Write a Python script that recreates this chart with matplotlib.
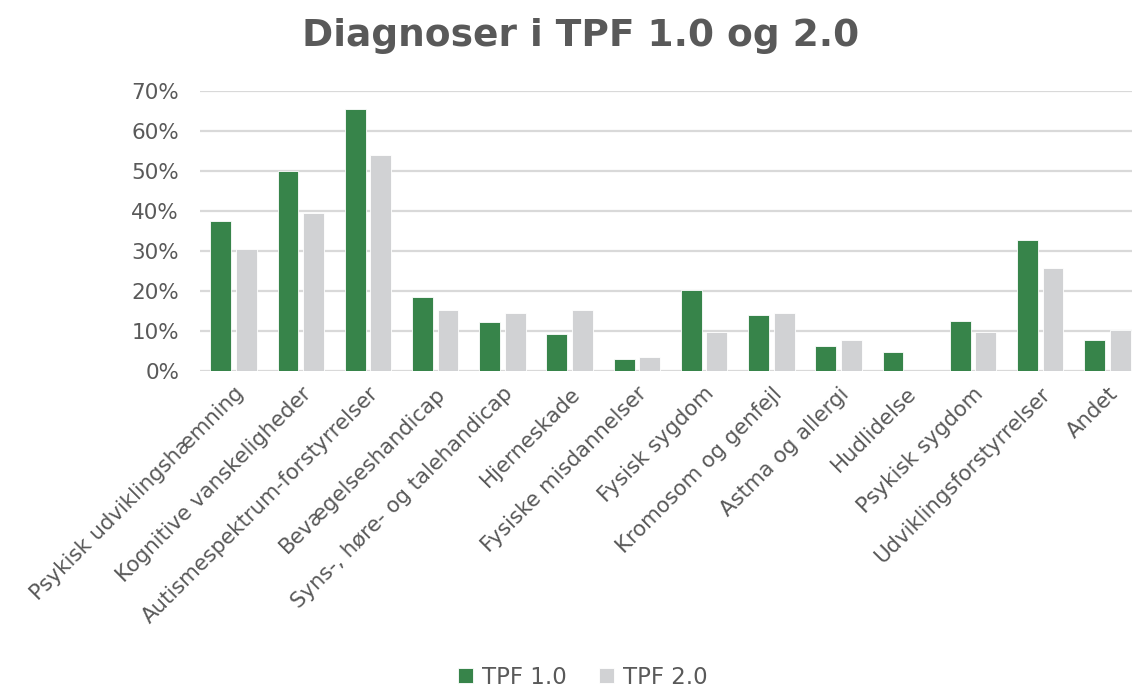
# libraries
import numpy as np
import matplotlib.pyplot as plt

plt.rcParams['font.family'] = ['DejaVu Sans']

# categories (diagnoses)
categories = ['Psykisk udviklingshæmning', 'Kognitive vanskeligheder',
              'Autismespektrum-forstyrrelser', 'Bevægelseshandicap',
              'Syns-, høre- og talehandicap', 'Hjerneskade',
              'Fysiske misdannelser', 'Fysisk sygdom', 'Kromosom og genfejl',
              'Astma og allergi', 'Hudlidelse', 'Psykisk sygdom',
              'Udviklingsforstyrrelser', 'Andet']

# share of children, TPF 1.0
tpf1 = [0.374, 0.500, 0.655, 0.186, 0.123, 0.093, 0.030, 0.203, 0.140,
        0.062, 0.047, 0.124, 0.328, 0.078]

# share of children, TPF 2.0
tpf2 = [0.305, 0.394, 0.540, 0.152, 0.144, 0.152, 0.035, 0.097, 0.144,
        0.077, 0.0, 0.097, 0.257, 0.103]

series_names = ['TPF 1.0', 'TPF 2.0']
yticks = [0, 0.1, 0.2, 0.3, 0.4, 0.5, 0.6, 0.7]

green = '#37844a'
grey = '#d1d2d4'
text_col = '#595959'

fig = plt.figure(figsize=(11.32, 6.89), dpi=100)
ax = fig.add_axes([200 / 1132, 318 / 689, 941 / 1132, 280 / 689])

x = np.arange(len(categories))
barWidth = 0.31
ax.bar(x - 0.19, tpf1, width=barWidth, color=green, edgecolor='white',
       linewidth=0.6, label=series_names[0], zorder=3)
ax.bar(x + 0.19, tpf2, width=barWidth, color=grey, edgecolor='white',
       linewidth=0.6, label=series_names[1], zorder=3)

ax.set_xlim(-0.5, len(categories) - 0.5)
ax.set_ylim(0, 0.70)
ax.set_yticks(yticks)
ax.set_yticklabels(['{:.0f}%'.format(v * 100) for v in yticks])
ax.grid(axis='y', color='#d9d9d9', linewidth=1.6, zorder=0)
for s in ax.spines.values():
    s.set_visible(False)
ax.tick_params(axis='both', length=0, colors=text_col, labelsize=15.5)
ax.tick_params(axis='y', pad=15)
ax.tick_params(axis='x', pad=9)

ax.set_xticks(x)
ax.set_xticklabels(categories, rotation=45, ha='right', rotation_mode='anchor',
                   fontsize=15.3, color=text_col)

fig.text(0.513, 0.948, 'Diagnoser i TPF 1.0 og 2.0', ha='center', va='center',
         fontsize=27, fontweight='bold', color=text_col)

leg = fig.legend(loc='center', bbox_to_anchor=(0.515, 0.017), ncol=2,
                 frameon=False, fontsize=16.5, handlelength=0.65,
                 handleheight=0.65, handletextpad=0.4, columnspacing=1.4)
for t in leg.get_texts():
    t.set_color(text_col)

fig.savefig('out.png', dpi=100)
